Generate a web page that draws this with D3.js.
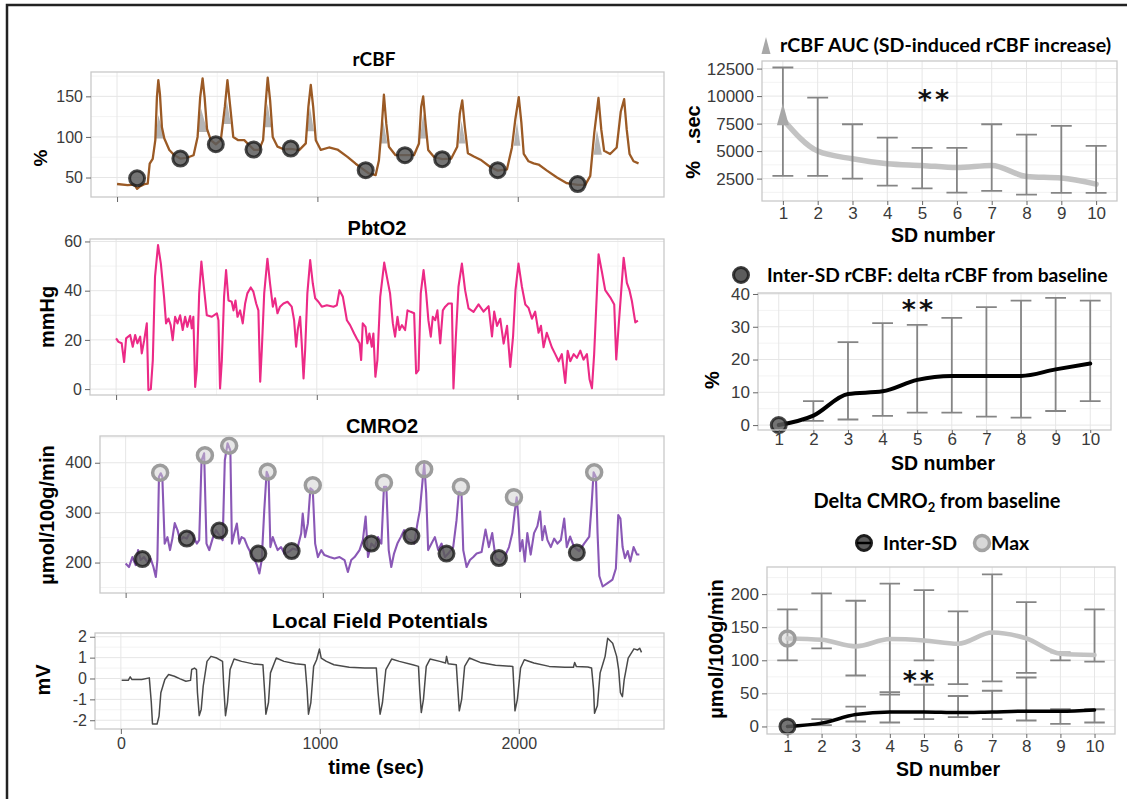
<!DOCTYPE html>
<html>
<head>
<meta charset="utf-8">
<script src="https://cdn.jsdelivr.net/npm/d3@7"></script>
<style>
  body { margin: 0; background: #fff; }
  svg { display: block; font-family: "Liberation Sans", Arial, sans-serif; }
</style>
</head>
<body>
<svg id="fig" width="1132" height="799"></svg>
<script>
"use strict";

// ---- time series (left column), [time sec, value] ----
var rcbfTrace = [[0,42],[53,40.6],[86,41.4],[100,36],[111,38.5],[136,41.8],[153,42.6],[163,67],[178,73],[191,96],[199,149],[206,170],[214,153],[224,112],[236,98],[261,84],[286,77.5],[316,73.4],[352,74.6],[382,77.5],[402,100],[415,149],[427,172],[437,149],[449,110],[468,96],[493,91],[518,96],[538,137],[551,170],[565,137],[580,100],[605,96],[635,96],[659,90],[684,84],[709,84],[729,96],[743,145],[752,173],[764,145],[777,100],[801,88],[834,84.5],[867,85.3],[909,83.7],[942,92],[955,137],[967,164],[979,137],[992,96],[1017,84],[1058,87],[1100,84.5],[1150,75.5],[1191,67],[1224,61],[1257,55],[1291,53],[1307,71],[1321,112],[1332,152],[1344,116],[1357,88],[1390,77.5],[1437,77.5],[1482,77.5],[1507,92],[1518,137],[1528,150],[1540,116],[1553,84],[1581,75.5],[1623,72.6],[1668,73.4],[1698,88],[1711,129],[1723,145],[1736,112],[1751,80],[1781,76],[1814,72],[1863,63],[1900,58.5],[1946,60],[1971,87],[1988,122],[2005,149],[2018,118],[2030,79],[2054,70],[2079,67.4],[2104,66],[2146,58.5],[2196,50],[2245,43],[2299,41],[2337,41],[2362,52],[2382,105],[2403,148],[2417,109],[2431,83],[2461,79],[2494,87],[2514,131],[2531,146.5],[2544,109],[2558,79],[2578,70],[2603,67.4]];
var rcbfInterSD = [[100,49],[316,73.4],[493,91],[681,84.5],[867,85.7],[1241,59],[1437,77.5],[1623,72.6],[1900,59],[2299,42]];
// AUC shading: [start, peak, end, base level, top level]
var rcbfAuc = [[191,206,236,98,127],[402,419,452,106,135],[532,548,568,116,145],[734,751,771,112,141],[947,963,983,107,137],[1312,1329,1349,92,120],[1512,1528,1548,98,129],[1706,1719,1739,92,120],[1980,1996,2013,89,118],[2379,2395,2420,78,109]];

var pbtTrace = [[0,20.6],[12,19.2],[28,18.6],[40,11],[50,20.6],[70,22],[83,17.2],[95,22],[106,18.6],[120,21.3],[128,14.5],[140,19.9],[153,26.7],[161,-0.4],[173,0],[183,11.8],[194,45.7],[209,58.5],[223,51],[239,37.5],[249,26.7],[261,28.7],[272,26],[282,19.9],[294,29.4],[306,26.7],[319,30],[332,24],[344,29.4],[355,25.3],[369,29.7],[377,24.7],[385,29.4],[394,0.9],[402,7.7],[414,38.9],[425,51.8],[439,40.2],[452,30],[477,29.4],[502,30.8],[510,28],[518,0.3],[527,11.8],[538,37.5],[548,48.4],[560,36],[576,35.5],[585,32],[595,36],[605,29.4],[618,32],[631,26.7],[643,34.8],[654,38.9],[671,41.3],[684,39.6],[698,34.8],[709,32],[718,3],[726,15.9],[738,38.9],[754,53],[767,43],[781,33.5],[792,36.9],[804,30.8],[817,33.5],[834,34.8],[854,35.5],[875,33.5],[887,28],[897,17.2],[905,24],[917,29.4],[925,18.6],[934,4.3],[942,15.9],[953,38.9],[967,52.4],[980,43],[992,36.9],[1008,35.5],[1025,33.5],[1050,34.1],[1083,33.5],[1100,34.1],[1113,40.2],[1130,37.5],[1150,28],[1166,26],[1186,22.6],[1199,20.6],[1213,18.6],[1221,11.8],[1229,26.7],[1243,25.3],[1252,18.6],[1262,22.6],[1274,17.2],[1282,22.6],[1292,5],[1302,11.8],[1316,37.5],[1336,51.4],[1349,45.7],[1365,38.9],[1379,26.7],[1390,21.3],[1402,29.4],[1412,24],[1424,26],[1440,24],[1452,32],[1468,31.4],[1485,30.8],[1495,6.4],[1507,7.7],[1518,38.9],[1532,48.4],[1545,38.9],[1556,28],[1568,21.3],[1578,29.4],[1590,28],[1601,32],[1615,18.6],[1628,32],[1640,33.5],[1656,34.8],[1673,34.8],[1681,0.3],[1693,21.3],[1706,41.6],[1723,51],[1739,40.2],[1756,32.8],[1781,31.4],[1806,34.4],[1831,31.5],[1856,33.7],[1873,21.4],[1884,31.5],[1898,25.7],[1914,28.6],[1931,18.5],[1948,25.7],[1964,9],[1978,21.4],[1990,40.2],[2005,51],[2022,41.6],[2039,34.4],[2055,33],[2072,28.6],[2088,31.5],[2105,22.9],[2117,25.7],[2130,17],[2146,22.9],[2171,17],[2188,14.2],[2205,11.3],[2221,14.2],[2238,2.5],[2250,15.6],[2263,11.3],[2280,14.2],[2296,12.7],[2313,15.6],[2329,12],[2346,14.2],[2359,4],[2371,0.3],[2382,14.2],[2404,54.8],[2421,47.5],[2437,40.2],[2462,37.3],[2482,34.4],[2492,12],[2504,25.7],[2529,53.4],[2545,43.2],[2558,40.2],[2570,35.8],[2587,27.1],[2600,27.8]];

var cmroTrace = [[0,198],[17,191],[34,211],[51,195],[63,225],[76,205],[93,211],[110,201],[127,208],[141,191],[153,171],[161,205],[169,372],[178,379],[186,372],[198,238],[212,251],[225,225],[237,248],[249,279],[263,265],[276,245],[293,251],[310,248],[327,261],[344,251],[361,238],[373,245],[385,405],[398,419],[410,238],[424,225],[441,248],[458,265],[475,255],[492,245],[503,405],[517,439],[531,425],[539,238],[551,258],[564,278],[576,238],[588,251],[602,248],[619,231],[632,221],[649,211],[666,195],[678,178],[690,205],[703,305],[715,382],[725,372],[734,231],[746,251],[758,238],[771,225],[788,231],[805,218],[825,221],[847,228],[869,225],[890,258],[898,298],[910,251],[924,278],[937,349],[949,345],[961,238],[975,211],[992,225],[1008,215],[1034,211],[1059,208],[1085,211],[1110,205],[1127,181],[1144,205],[1161,211],[1186,225],[1203,245],[1217,292],[1229,211],[1246,238],[1263,231],[1280,251],[1297,238],[1310,352],[1322,352],[1334,225],[1347,191],[1361,218],[1378,238],[1395,251],[1412,265],[1429,248],[1446,245],[1463,238],[1480,279],[1492,305],[1503,352],[1514,399],[1524,339],[1534,225],[1551,238],[1568,251],[1585,225],[1602,238],[1619,211],[1636,218],[1661,231],[1678,285],[1690,342],[1703,339],[1712,225],[1729,191],[1746,205],[1763,211],[1780,218],[1805,221],[1825,266],[1842,231],[1859,259],[1876,209],[1901,202],[1927,216],[1944,231],[1961,259],[1973,302],[1983,331],[1992,288],[2000,223],[2012,245],[2024,202],[2037,259],[2054,216],[2071,259],[2088,273],[2102,302],[2113,245],[2125,273],[2139,245],[2156,231],[2173,248],[2190,238],[2207,245],[2224,288],[2237,231],[2254,252],[2274,231],[2300,223],[2325,238],[2351,252],[2363,316],[2373,381],[2385,371],[2393,259],[2402,173],[2419,152],[2444,159],[2469,166],[2486,188],[2498,295],[2509,288],[2520,231],[2532,209],[2546,223],[2559,202],[2576,231],[2593,216],[2605,216]];
var cmroMaxPts = [[175,380],[402,415],[525,434],[720,382],[949,355],[1310,360],[1514,387],[1700,352],[1969,331],[2376,381]];
var cmroInterPts = [[85,207],[310,248],[475,264],[673,218],[842,223],[1246,238],[1449,253],[1627,218],[1893,209],[2288,220]];

var lfpTrace = [[4,-0.08],[37,-0.09],[47,0.08],[56,-0.05],[105,-0.05],[143,0.03],[153,-1.15],[159,-2.18],[182,-2.18],[192,-1.8],[201,-0.68],[221,-0.05],[240,0.19],[269,0.11],[298,-0.02],[327,-0.13],[350,-0.09],[356,0.43],[370,0.5],[380,0.43],[385,-0.68],[394,-1.78],[404,-1.47],[414,-0.36],[433,0.82],[453,1.06],[482,0.98],[511,0.82],[517,-0.36],[526,-1.78],[536,-1.15],[549,0.43],[569,0.93],[607,0.82],[665,0.7],[714,0.66],[723,-0.68],[729,-1.71],[742,-1.15],[752,0.27],[781,0.98],[820,0.82],[878,0.71],[926,0.66],[936,-0.52],[943,-1.71],[955,-1.15],[969,0.58],[984,0.9],[998,1.41],[1007,0.98],[1033,0.82],[1071,0.66],[1148,0.54],[1226,0.5],[1284,0.5],[1293,-0.68],[1303,-1.71],[1315,-1.15],[1332,0.43],[1361,0.93],[1400,0.82],[1467,0.66],[1496,0.58],[1502,-0.52],[1510,-1.63],[1521,-1.0],[1535,0.58],[1554,0.93],[1603,0.82],[1632,0.74],[1637,1.06],[1645,0.71],[1686,0.66],[1694,-0.52],[1701,-1.55],[1713,-1.0],[1728,0.58],[1752,0.98],[1806,0.77],[1883,0.63],[1970,0.58],[1976,-0.52],[1981,-1.55],[1993,-1.0],[2009,0.5],[2028,0.9],[2076,0.74],[2153,0.58],[2231,0.54],[2275,0.54],[2281,0.77],[2289,0.58],[2347,0.55],[2366,0.5],[2376,-0.52],[2381,-1.67],[2395,-1.31],[2409,0.27],[2424,0.74],[2434,1.06],[2447,1.93],[2472,1.69],[2492,1.06],[2502,0.43],[2511,-0.68],[2521,-0.87],[2530,-0.05],[2550,0.98],[2579,1.42],[2598,1.37],[2608,1.45],[2617,1.25]];

var timeTicks = [0, 1000, 2000];
var timeMinor = [500, 1500, 2500];

// ---- summary per SD number (right column) ----
var sdNumber = [1, 2, 3, 4, 5, 6, 7, 8, 9, 10];
var aucMean = [7900, 5000, 4300, 3850, 3700, 3500, 3700, 2700, 2550, 2000];
var aucLow  = [2740, 2740, 2500, 1860, 1620, 1230, 1380, 1050, 1200, 1200];
var aucHigh = [12600, 9860, 7440, 6230, 5290, 5290, 7440, 6500, 7290, 5470];

var interMean = [0, 2.9, 9.5, 10.3, 13.8, 15, 15, 15, 17, 18.8];
var interLow  = [null, 1.3, 1.7, 2.8, 3.8, 3.8, 2.6, 2.3, 4.3, 7.3];
var interHigh = [null, 7.3, 25.3, 31.1, 30.6, 32.7, 36, 38, 38.8, 38];

var cmroMaxMean = [133, 131, 121, 132, 130, 125, 142, 133, 110, 108];
var cmroMaxLow  = [100, 118, 77, 48, 100, 64, 68, 81, 100, 98];
var cmroMaxHigh = [177, 201, 190, 216, 206, 174, 230, 188, 112, 177];
var cmroInterMean = [0, 5, 18, 22, 22, 21, 22, 23, 23, 25];
var cmroInterLow  = [null, 2, 7.5, 6, 11, 14, 11, 9, 4, 6];
var cmroInterHigh = [null, 11, 30, 52, 63, 46, 54, 74, 26, 26];

var svg = d3.select("#fig");
var calibri = "Lato, 'Open Sans', sans-serif";

// outer frame (top and left edges only)
svg.append("path")
  .attr("d", "M7,799V5H1127")
  .attr("fill", "none")
  .attr("stroke", "#222")
  .attr("stroke-width", 2.5);

function styleAxis(ax, size) {
  ax.select(".domain").remove();
  ax.selectAll(".tick line").attr("stroke", "#666").attr("stroke-width", 1);
  ax.selectAll(".tick text")
    .attr("fill", "#3a3a3a")
    .style("font-size", size + "px")
    .style("font-family", "'Liberation Sans', Arial, sans-serif");
}

// panel with ggplot-like grid, border and axes; returns scales + mark layer
function makePanel(cfg) {
  var x = d3.scaleLinear().domain(cfg.xDomain).range([cfg.left, cfg.right]);
  var y = d3.scaleLinear().domain(cfg.yDomain).range([cfg.bottom, cfg.top]);
  var g = svg.append("g");
  var grid = g.append("g");

  grid.selectAll("line.ymin").data(cfg.yMinor).join("line")
    .attr("x1", cfg.left).attr("x2", cfg.right)
    .attr("y1", function (d) { return y(d); }).attr("y2", function (d) { return y(d); })
    .attr("stroke", "#f3f3f3");
  grid.selectAll("line.xmin").data(cfg.xMinor).join("line")
    .attr("y1", cfg.top).attr("y2", cfg.bottom)
    .attr("x1", function (d) { return x(d); }).attr("x2", function (d) { return x(d); })
    .attr("stroke", "#f3f3f3");
  grid.selectAll("line.ymaj").data(cfg.yTicks).join("line")
    .attr("x1", cfg.left).attr("x2", cfg.right)
    .attr("y1", function (d) { return y(d); }).attr("y2", function (d) { return y(d); })
    .attr("stroke", "#e6e6e6");
  grid.selectAll("line.xmaj").data(cfg.xTicks).join("line")
    .attr("y1", cfg.top).attr("y2", cfg.bottom)
    .attr("x1", function (d) { return x(d); }).attr("x2", function (d) { return x(d); })
    .attr("stroke", "#e6e6e6");

  var plot = g.append("g");

  g.append("rect")
    .attr("x", cfg.left).attr("y", cfg.top)
    .attr("width", cfg.right - cfg.left).attr("height", cfg.bottom - cfg.top)
    .attr("fill", "none").attr("stroke", "#c9c9c9").attr("stroke-width", 1.3);

  var ay = g.append("g").attr("transform", "translate(" + cfg.left + ",0)")
    .call(d3.axisLeft(y).tickValues(cfg.yTicks).tickSize(5).tickPadding(3)
      .tickFormat(function (d) { return String(d); }));
  styleAxis(ay, cfg.fontSize);

  var xPad = cfg.xPad === undefined ? 4 : cfg.xPad;
  var ax = g.append("g").attr("transform", "translate(0," + cfg.bottom + ")")
    .call(d3.axisBottom(x).tickValues(cfg.xTicks).tickSize(cfg.xTick || 5).tickPadding(xPad)
      .tickFormat(function (d) { return cfg.xLabels ? String(d) : ""; }));
  styleAxis(ax, cfg.fontSize);

  return { g: g, plot: plot, x: x, y: y };
}

function yTitle(text, cx, cy, size, font) {
  svg.append("text")
    .attr("transform", "translate(" + cx + "," + cy + ") rotate(-90)")
    .attr("text-anchor", "middle")
    .attr("dominant-baseline", "central")
    .style("font-size", size + "px")
    .style("font-weight", 700)
    .style("font-family", font || "'Liberation Sans', Arial, sans-serif")
    .style("white-space", "pre")
    .text(text);
}

function title(text, x, y, size, font, anchor) {
  return svg.append("text")
    .attr("x", x).attr("y", y)
    .attr("text-anchor", anchor || "middle")
    .style("font-size", size + "px")
    .style("font-weight", 700)
    .style("font-family", font || "'Liberation Sans', Arial, sans-serif")
    .text(text);
}

function drawTrace(p, data, color, width) {
  var line = d3.line()
    .x(function (d) { return p.x(d[0]); })
    .y(function (d) { return p.y(d[1]); });
  p.plot.append("path")
    .datum(data)
    .attr("d", line)
    .attr("fill", "none")
    .attr("stroke", color)
    .attr("stroke-width", width)
    .attr("stroke-linejoin", "round");
}

function darkDots(p, data) {
  p.plot.selectAll(null).data(data).join("circle")
    .attr("cx", function (d) { return p.x(d[0]); })
    .attr("cy", function (d) { return p.y(d[1]); })
    .attr("r", 7.5)
    .attr("fill", "#5c5c5c").attr("fill-opacity", 0.85)
    .attr("stroke", "#1c1c1c").attr("stroke-opacity", 0.8).attr("stroke-width", 3);
}

function greyDots(p, data) {
  p.plot.selectAll(null).data(data).join("circle")
    .attr("cx", function (d) { return p.x(d[0]); })
    .attr("cy", function (d) { return p.y(d[1]); })
    .attr("r", 7.5)
    .attr("fill", "#cfcfcf").attr("fill-opacity", 0.5)
    .attr("stroke", "#9c9c9c").attr("stroke-width", 3.5);
}

var timeDomain = [-130, 2730];

// ---------- rCBF ----------
var pR = makePanel({ left: 91, right: 664, top: 72, bottom: 197,
  xDomain: timeDomain, yDomain: [26, 180], xTicks: timeTicks, xMinor: timeMinor,
  yTicks: [50, 100, 150], yMinor: [75, 125, 175], xLabels: false, fontSize: 16 });
pR.plot.selectAll("path.auc").data(rcbfAuc).join("path")
  .attr("class", "auc")
  .attr("d", function (d) {
    return "M" + pR.x(d[0]) + "," + pR.y(d[3]) +
      "L" + pR.x(d[1]) + "," + pR.y(d[4]) +
      "L" + pR.x(d[2]) + "," + pR.y(d[3]) + "Z";
  })
  .attr("fill", "#b4b4b4");
drawTrace(pR, rcbfTrace, "#9b5a25", 2.3);
darkDots(pR, rcbfInterSD);
title("rCBF", 374, 66, 19, calibri);
yTitle("%", 40, 158, 19);

// ---------- PbtO2 ----------
var pP = makePanel({ left: 90, right: 664, top: 239, bottom: 395,
  xDomain: timeDomain, yDomain: [-2.4, 61], xTicks: timeTicks, xMinor: timeMinor,
  yTicks: [0, 20, 40, 60], yMinor: [10, 30, 50], xLabels: false, fontSize: 16 });
drawTrace(pP, pbtTrace, "#ec2a86", 2.1);
title("PbtO2", 377, 235, 20);
yTitle("mmHg", 47, 317, 20);

// ---------- CMRO2 ----------
var pC = makePanel({ left: 100, right: 664, top: 436, bottom: 593,
  xDomain: timeDomain, yDomain: [139, 453.6], xTicks: timeTicks, xMinor: timeMinor,
  yTicks: [200, 300, 400], yMinor: [150, 250, 350, 450], xLabels: false, fontSize: 16 });
drawTrace(pC, cmroTrace, "#8a58b6", 2.1);
greyDots(pC, cmroMaxPts);
darkDots(pC, cmroInterPts);
title("CMRO2", 382, 433, 20);
yTitle("\u00b5mol/100g/min", 47, 515, 20);

// ---------- LFP ----------
var pL = makePanel({ left: 95, right: 664, top: 633, bottom: 729,
  xDomain: timeDomain, yDomain: [-2.42, 2.18], xTicks: timeTicks, xMinor: timeMinor,
  yTicks: [-2, -1, 0, 1, 2], yMinor: [-1.5, -0.5, 0.5, 1.5], xLabels: true, fontSize: 16 });
drawTrace(pL, lfpTrace, "#4a4a4a", 1.5);
title("Local Field Potentials", 380, 628, 21);
yTitle("mV", 43, 680, 20);
title("time (sec)", 376, 774, 20.5);

// ---------- right column ----------
var sdDomain = [0.4, 10.6];
var capHalf = 0.3;

function errorBars(p, lows, highs, color) {
  var rows = sdNumber.map(function (s, i) { return { s: s, lo: lows[i], hi: highs[i] }; })
    .filter(function (d) { return d.lo !== null; });
  var g = p.plot.append("g").attr("stroke", color).attr("stroke-width", 1.8).attr("fill", "none");
  g.selectAll(null).data(rows).join("path")
    .attr("d", function (d) {
      var xc = p.x(d.s), x0 = p.x(d.s - capHalf), x1 = p.x(d.s + capHalf);
      var yl = p.y(d.lo), yh = p.y(d.hi);
      return "M" + x0 + "," + yh + "H" + x1 + "M" + xc + "," + yh + "V" + yl +
        "M" + x0 + "," + yl + "H" + x1;
    });
}

function meanLine(p, means, color, width) {
  var line = d3.line()
    .curve(d3.curveMonotoneX)
    .x(function (d, i) { return p.x(sdNumber[i]); })
    .y(function (d) { return p.y(d); });
  p.plot.append("path").datum(means)
    .attr("d", line)
    .attr("fill", "none")
    .attr("stroke", color)
    .attr("stroke-width", width)
    .attr("stroke-linecap", "round")
    .attr("stroke-linejoin", "round");
}

function stars(p, xv, yv) {
  p.plot.append("text")
    .attr("x", p.x(xv)).attr("y", p.y(yv) + 14)
    .attr("text-anchor", "middle")
    .style("font-family", "'DejaVu Sans', sans-serif")
    .style("font-weight", 700)
    .style("font-size", "27px")
    .style("letter-spacing", "3px")
    .attr("fill", "#111")
    .text("**");
}

function sdAxisTitle(cx, cy) {
  svg.append("text")
    .attr("x", cx).attr("y", cy)
    .attr("text-anchor", "middle")
    .attr("dominant-baseline", "central")
    .style("font-size", "19.5px").style("font-weight", 700)
    .text("SD number");
}

// panel 1: rCBF AUC
var p1 = makePanel({ left: 762, right: 1117, top: 61, bottom: 201,
  xDomain: sdDomain, yDomain: [464, 13190], xTicks: sdNumber, xMinor: [],
  yTicks: [2500, 5000, 7500, 10000, 12500], yMinor: [1250, 3750, 6250, 8750, 11250],
  xLabels: true, fontSize: 17, xTick: 4, xPad: 2 });
meanLine(p1, aucMean, "#c3c3c3", 5.5);
errorBars(p1, aucLow, aucHigh, "#858585");
p1.plot.append("path")
  .attr("d", "M" + p1.x(1) + "," + (p1.y(aucMean[0]) - 16) +
    "L" + (p1.x(1) + 6) + "," + (p1.y(aucMean[0]) + 6) +
    "L" + (p1.x(1) - 6) + "," + (p1.y(aucMean[0]) + 6) + "Z")
  .attr("fill", "#a8a8a8");
stars(p1, 5.37, 10100);
svg.append("path").attr("d", "M766,37L770.5,54L761.5,54Z").attr("fill", "#a8a8a8");
title("rCBF AUC (SD-induced rCBF increase)", 780, 52, 19.6, calibri, "start");
yTitle("%   .sec", 693, 142, 20);
sdAxisTitle(943, 235);

// panel 2: inter-SD rCBF
var p2 = makePanel({ left: 758, right: 1111, top: 293, bottom: 430,
  xDomain: sdDomain, yDomain: [-1.5, 40.3], xTicks: sdNumber, xMinor: [],
  yTicks: [0, 10, 20, 30, 40], yMinor: [5, 15, 25, 35],
  xLabels: true, fontSize: 17, xTick: 3, xPad: 0 });
errorBars(p2, interLow, interHigh, "#858585");
meanLine(p2, interMean, "#000", 4);
darkDots(p2, [[1, interMean[0]]]);
stars(p2, 5.05, 36.6);
svg.append("circle").attr("cx", 741).attr("cy", 275).attr("r", 7.5)
  .attr("fill", "#5c5c5c").attr("stroke", "#1c1c1c").attr("stroke-width", 3).attr("stroke-opacity", 0.85);
title("Inter-SD rCBF: delta rCBF from baseline", 767, 282, 19.2, calibri, "start");
yTitle("%", 712, 380, 20);
sdAxisTitle(943, 463);

// panel 3: delta CMRO2
var p3 = makePanel({ left: 767, right: 1115, top: 567, bottom: 734,
  xDomain: sdDomain, yDomain: [-11.4, 241], xTicks: sdNumber, xMinor: [],
  yTicks: [0, 50, 100, 150, 200], yMinor: [25, 75, 125, 175, 225],
  xLabels: true, fontSize: 17, xTick: 4, xPad: 2 });
errorBars(p3, cmroMaxLow, cmroMaxHigh, "#858585");
meanLine(p3, cmroMaxMean, "#c3c3c3", 4.5);
errorBars(p3, cmroInterLow, cmroInterHigh, "#858585");
meanLine(p3, cmroInterMean, "#000", 3.5);
greyDots(p3, [[1, cmroMaxMean[0]]]);
darkDots(p3, [[1, cmroInterMean[0]]]);
stars(p3, 4.88, 76);

var t3 = title("Delta CMRO", 937, 508, 20, calibri);
t3.append("tspan").attr("dy", 4).style("font-size", "13px").text("2");
t3.append("tspan").attr("dy", -4).text(" from baseline");

// legend
svg.append("circle").attr("cx", 864).attr("cy", 543).attr("r", 7.5)
  .attr("fill", "#5c5c5c").attr("stroke", "#1c1c1c").attr("stroke-width", 3);
svg.append("line").attr("x1", 857).attr("x2", 871).attr("y1", 543).attr("y2", 543)
  .attr("stroke", "#000").attr("stroke-width", 2.5);
title("Inter-SD", 883, 550, 19.5, calibri, "start");
svg.append("circle").attr("cx", 982).attr("cy", 543).attr("r", 7.5)
  .attr("fill", "#d8d8d8").attr("stroke", "#a3a3a3").attr("stroke-width", 3.5);
title("Max", 991, 550, 19.5, calibri, "start");

yTitle("\u00b5mol/100g/min", 716, 649, 20);
sdAxisTitle(948, 769);
</script>
</body>
</html>
